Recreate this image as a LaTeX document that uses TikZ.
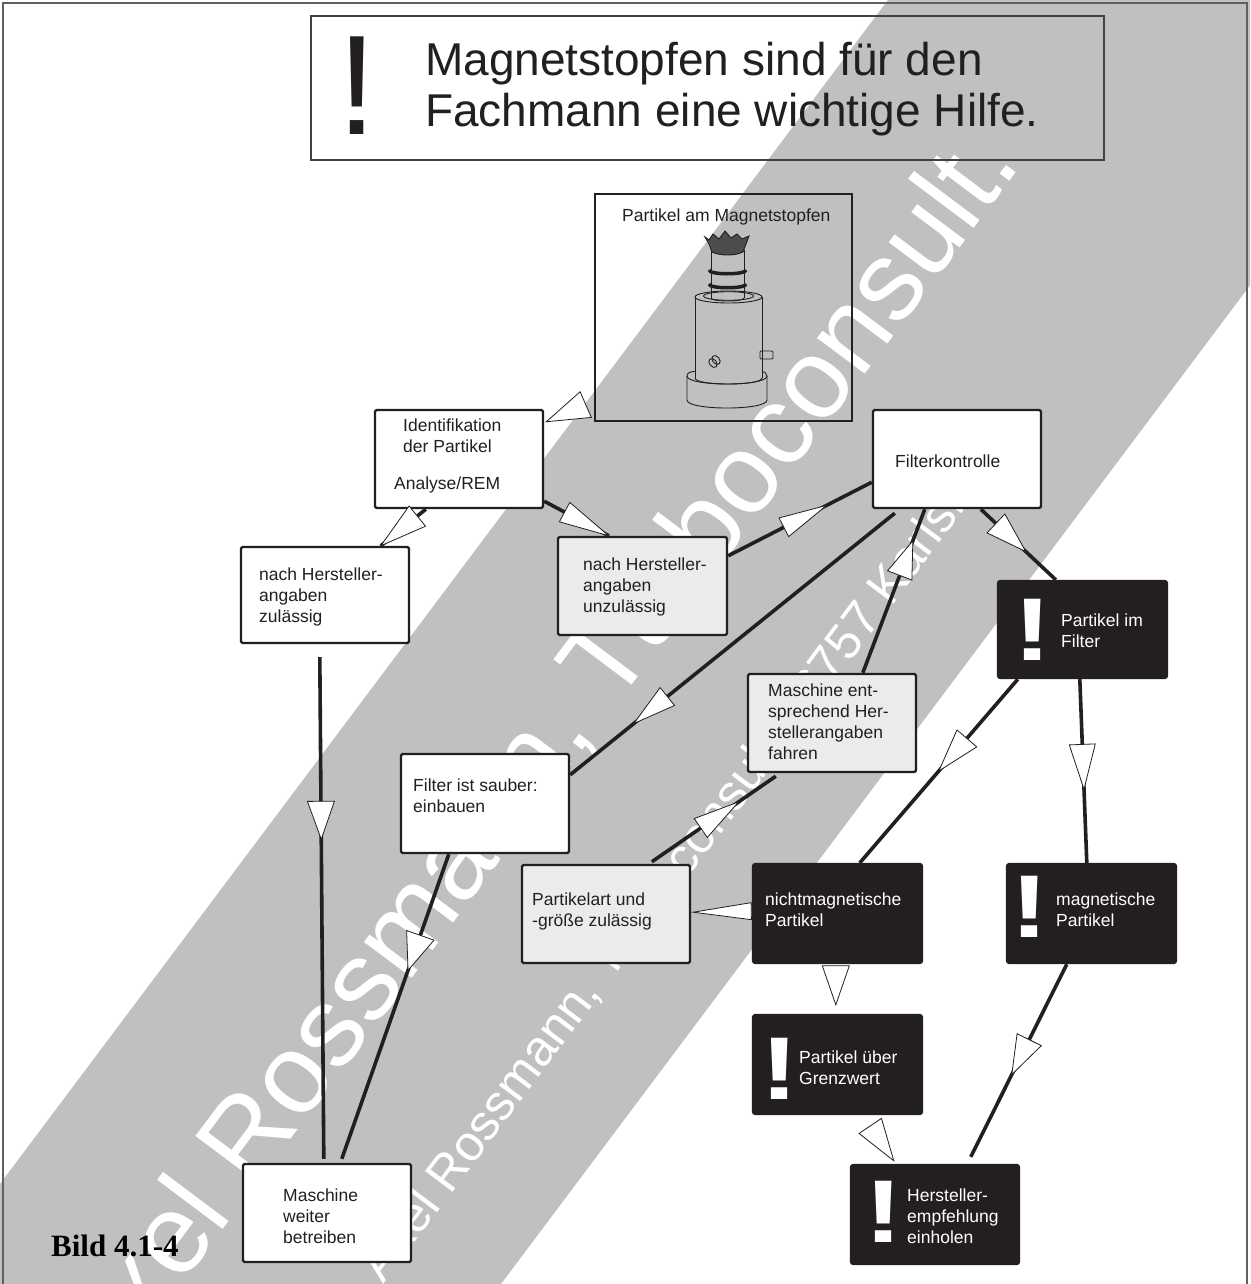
\documentclass[tikz,border=0pt]{standalone}
\usepackage{fontspec}
\setmainfont{Liberation Sans}
\newfontfamily\captionserif{Liberation Serif}
\usetikzlibrary{calc,fit,decorations.markings}

\definecolor{ink}{HTML}{231F20}
\definecolor{band}{HTML}{C0C0C0}
\definecolor{pale}{HTML}{EBEBEB}
\definecolor{framegrey}{HTML}{606060}

\tikzset{
  box/.style={draw=ink, line width=2.4pt, rounded corners=1.5pt, inner sep=0pt},
  wbox/.style={box, fill=white},
  gbox/.style={box, fill=pale},
  bbox/.style={box, fill=ink, rounded corners=2.5pt},
  % text blocks are placed by the baseline of their last line
  txt/.style={anchor=base west, align=left, inner sep=0pt, text=ink,
              font=\fontsize{17.5}{21}\selectfont},
  wtxt/.style={txt, text=white},
  bang/.style={anchor=base, inner sep=0pt, text=white},
  link/.style={draw=ink, line width=3.6pt},
  tri/.style n args={3}{postaction={decorate, decoration={markings,
      mark=at position #1 with {\draw[ink, line width=0.8pt, fill=white, line join=miter]
        (0pt,0pt) -- (-#2pt,{#3pt/2}) -- (-#2pt,{-#3pt/2}) -- cycle;}}}},
  wmtext/.style={white, anchor=base west, inner sep=0pt, rotate=53.13}
}
\newcommand\whitebang{\scalebox{1.05}[0.81]{\fontsize{110}{110}\selectfont\bfseries !}}

\begin{document}
\begin{tikzpicture}[x=1pt,y=-1pt]
% page
\fill[white] (0,0) rectangle (1250,1284);
\path[use as bounding box] (0,0) rectangle (1250,1284);

% diagonal grey band with its lettering
\begin{scope}
  \clip (0,0) rectangle (1250,1284);
  \fill[band] (-100,1317.3) -- (1400,-682.7) -- (1400,85.3) -- (-100,2085.3) -- cycle;
  \node[wmtext, font=\fontsize{113}{113}\selectfont] (wmA) at (101.8,1391.6)
    {Axel Rossmann, Turboconsult.};
  \node[wmtext, font=\fontsize{50}{50}\selectfont] (wmB) at (383.6,1284.2)
    {Axel Rossmann, Turboconsult, 76757 Karlsruhe};
\end{scope}

% outer frame (open at the bottom)
\draw[framegrey, line width=2pt] (3,1284) -- (3,3) -- (1247,3) -- (1247,1284);

% headline box
\draw[ink!85, line width=1.3pt] (311,16) rectangle (1104,160);
\node[anchor=base, inner sep=0pt, text=ink, font=\fontsize{142}{142}\selectfont] (hbang) at (357.5,135) {!};
\node[anchor=base west, inner sep=0pt, text=ink, align=left, font=\fontsize{46}{51}\selectfont]
  (headline) at (425,127) {Magnetstopfen sind für den\\Fachmann eine wichtige Hilfe.};

% magnetic plug picture
\node[draw=ink, line width=1.4pt, inner sep=0pt, fit={(595,194) (852,421)}] (mag) {};
\node[txt] (magT) at (622,222) {Partikel am Magnetstopfen};
\begin{scope}[ink, line width=0.9pt]
  % base disc
  \draw (687,376) -- (687,400) .. controls (687,410.7) and (767,410.7) .. (767,400) -- (767,376);
  \draw (687,376) .. controls (687,386.7) and (767,386.7) .. (767,376);
  \draw (687,376) .. controls (687,373) and (690,371.8) .. (695,371.2);
  \draw (767,376) .. controls (767,373) and (764,371.8) .. (762,371.2);
  % body
  \draw (695,297) -- (695,378);
  \draw (762,297) -- (762,378);
  \draw (695,378) .. controls (695,386) and (762,386) .. (762,378);
  \draw (728.5,297) ellipse [x radius=33.5, y radius=6];
  \draw (728.5,296) ellipse [x radius=25, y radius=4.3];
  % neck
  \draw (711,250) -- (711,298);
  \draw (744,250) -- (744,298);
  \draw (711,298) .. controls (711,302) and (744,302) .. (744,298);
  \draw[line width=3.5pt] (709,270) .. controls (709,275) and (746,275) .. (746,270);
  \draw[line width=3.5pt] (709,284) .. controls (709,289) and (746,289) .. (746,284);
  % magnetic tip with debris
  \filldraw[fill=ink!80, draw=ink] (705,237) -- (709,240) -- (713,234) -- (719,239) -- (725,231)
    -- (731,238) -- (737,234) -- (742,239) -- (749,236) -- (746,244) -- (743,252)
    .. controls (735,256) and (720,256) .. (712,252) -- (709,244) -- cycle;
  % side pins
  \draw[rounded corners=1pt] (760,351) rectangle (773,359);
  \draw[rotate around={40:(716,360)}] (716,360) ellipse [x radius=3.5, y radius=5];
  \draw[rotate around={40:(713,363)}] (713,363) ellipse [x radius=3.5, y radius=5];
\end{scope}

% flow boxes
\node[wbox, fit={(375,410) (543,508)}] (ident) {};
\node[txt] (identT) at (394,489) {\hspace*{9pt}Identifikation\\\hspace*{9pt}der Partikel\\[16pt]Analyse/REM};

\node[wbox, fit={(241,547) (409,643)}] (zul) {};
\node[txt] (zulT) at (259,622) {nach Hersteller-\\angaben\\zulässig};

\node[gbox, fit={(558,537) (727,635)}] (unzul) {};
\node[txt] (unzulT) at (583,612) {nach Hersteller-\\angaben\\unzulässig};

\node[wbox, fit={(873,410) (1041,508)}] (filt) {};
\node[txt] (filtT) at (895,467) {Filterkontrolle};

\node[bbox, fit={(998,581) (1167,678)}] (pif) {};
\node[bang] (pifX) at (1032.5,660) {\whitebang};
\node[wtxt] (pifT) at (1061,647) {Partikel im\\Filter};

\node[gbox, fit={(748,674) (916,772)}] (mef) {};
\node[txt] (mefT) at (768,759) {Maschine ent-\\sprechend Her-\\stellerangaben\\fahren};

\node[wbox, fit={(401,754) (569,853)}] (fsb) {};
\node[txt] (fsbT) at (413,812) {Filter ist sauber:\\einbauen};

\node[gbox, fit={(522,865) (690,963)}] (pas) {};
\node[txt] (pasT) at (532,926) {Partikelart und\\-größe zulässig};

\node[bbox, fit={(753,864) (922,963)}] (nmp) {};
\node[wtxt] (nmpT) at (765,926) {nichtmagnetische\\Partikel};

\node[bbox, fit={(1007,864) (1176,963)}] (mp) {};
\node[bang] (mpX) at (1030,937) {\whitebang};
\node[wtxt] (mpT) at (1056,926) {magnetische\\Partikel};

\node[bbox, fit={(753,1015) (922,1114)}] (pug) {};
\node[bang] (pugX) at (779.5,1099) {\whitebang};
\node[wtxt] (pugT) at (799,1084) {Partikel über\\Grenzwert};

\node[bbox, fit={(851,1165) (1019,1264)}] (hee) {};
\node[bang] (heeX) at (884,1242) {\whitebang};
\node[wtxt] (heeT) at (907,1243) {Hersteller-\\empfehlung\\einholen};

\node[wbox, fit={(243,1164) (411,1262)}] (mwb) {};
\node[txt] (mwbT) at (283,1243) {Maschine\\weiter\\betreiben};

% caption
\node[anchor=base west, inner sep=0pt, text=black, font=\captionserif\bfseries\fontsize{31}{36}\selectfont]
  (caption) at (51,1256) {Bild 4.1-4};

% connectors
\path[tri={0.999}{43}{28}] ($(mag.south west)+(-2,-20)$) -- ($(ident.north east)+(2,13)$);
\draw[link, tri={0.999}{47}{26}] ($(ident.south west)+(52,0)$) -- ($(zul.north west)+(141,0)$);
\draw[link, tri={0.999}{50}{22}] ($(ident.south east)+(0,-8)$) -- ($(unzul.north west)+(52,0)$);
\draw[link, tri={0.685}{48}{21}] ($(unzul.north east)+(0,20)$) -- ($(filt.south west)+(0,-27)$);
\draw[link, tri={0.804}{43}{23}] ($(filt.south west)+(23,4)$) -- ($(fsb.north east)+(0,22)$);
\draw[link, tri={0.807}{37}{26}] ($(mef.north west)+(116,0)$) -- ($(filt.south west)+(53,0)$);
\draw[link, tri={0.6}{41}{26}] ($(filt.south west)+(109,0)$) -- ($(pif.north west)+(59,0)$);
\draw[link, tri={0.5}{43}{26}] ($(pif.south west)+(21,0)$) -- ($(nmp.north west)+(108,0)$);
\draw[link, tri={0.6}{45}{26}] ($(pif.south west)+(83,0)$) -- ($(mp.north west)+(81,0)$);
\draw[link, tri={0.363}{38}{27}] ($(zul.south west)+(80,13)$) -- ($(mwb.north west)+(82,-4)$);
\draw[link, tri={0.381}{37}{29}] ($(fsb.south west)+(49,0)$) -- ($(mwb.north west)+(100,-4)$);
\draw[link, tri={0.70}{46}{23}] ($(pas.north west)+(131,-2)$) -- ($(mef.south west)+(29,3)$);
\path[tri={0.999}{58}{17}] ($(nmp.south west)+(-3,-53)$) -- ($(pas.south east)+(2,-52)$);
\path[tri={0.999}{39}{27}] ($(nmp.south west)+(84,4)$) -- ($(pug.north west)+(84,-9)$);
\path[tri={0.999}{42}{27}] ($(pug.south west)+(118,10)$) -- ($(hee.north west)+(44,-3)$);
\draw[link, tri={0.573}{39}{27}] ($(mp.south west)+(61,0)$) -- ($(hee.north west)+(121,-7)$);
\end{tikzpicture}
\end{document}
